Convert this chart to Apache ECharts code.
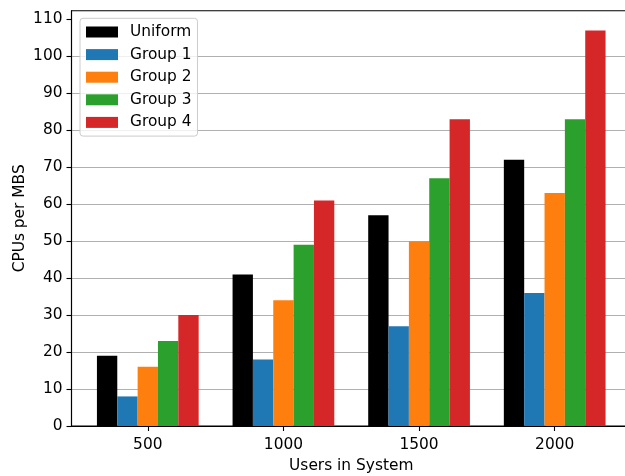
<!DOCTYPE html>
<html>
<head>
<meta charset="utf-8">
<script src="https://cdn.jsdelivr.net/npm/echarts@6/dist/echarts.min.js"></script>
<style>
  html, body { margin: 0; padding: 0; background: #fff; }
  #chart { width: 625px; height: 476px; }
</style>
</head>
<body>
<div id="chart"></div>
<script>
// Users in system (x categories)
const categories = ['500', '1000', '1500', '2000'];
// CPUs per MBS for each placement strategy
const seriesNames = ['Uniform', 'Group 1', 'Group 2', 'Group 3', 'Group 4'];
const uniform = [19, 41, 57, 72];
const group1 = [8, 18, 27, 36];
const group2 = [16, 34, 50, 63];
const group3 = [23, 49, 67, 83];
const group4 = [30, 61, 83, 107];
const yTicks = [0, 10, 20, 30, 40, 50, 60, 70, 80, 90, 100, 110];

const colors = ['#000000', '#1f77b4', '#ff7f0e', '#2ca02c', '#d62728'];
const values = [uniform, group1, group2, group3, group4];

const FONT = 'DejaVu Sans';
const FS = 15.4;
const BAR_W = 0.15;                      // bar width in category units
const nSeries = values.length;
const xPad = (nSeries * BAR_W) / 2 + 0.05 * ((categories.length - 1) + nSeries * BAR_W);
const yMax = Math.max(...values.flat()) * 1.05;

function barItem(params, api) {
  const x = api.value(0), y = api.value(1);
  const a = api.coord([x - BAR_W / 2, 0]);
  const b = api.coord([x + BAR_W / 2, y]);
  return {
    type: 'rect',
    shape: { x: a[0], y: b[1], width: b[0] - a[0], height: a[1] - b[1] },
    style: api.style()
  };
}

const series = values.map((vals, s) => ({
  name: seriesNames[s],
  type: 'custom',
  renderItem: barItem,
  itemStyle: { color: colors[s] },
  encode: { x: 0, y: 1 },
  data: vals.map((v, i) => [i + (s - (nSeries - 1) / 2) * BAR_W, v]),
  z: 2
}));

const chart = echarts.init(document.getElementById('chart'), null, { renderer: 'canvas' });
chart.setOption({
  animation: false,
  backgroundColor: '#ffffff',
  textStyle: { fontFamily: FONT, color: '#000' },
  color: colors,
  grid: {
    left: 71.5, width: 559.5, top: 10.7, bottom: 50,
    outerBoundsMode: 'none', containLabel: false,
    show: true, borderColor: '#000', borderWidth: 1.1, backgroundColor: 'transparent'
  },
  legend: {
    orient: 'vertical',
    left: 80, top: 18.3,
    padding: [5.7, 6, 5.7, 6],
    itemWidth: 32, itemHeight: 11, itemGap: 6.6,
    icon: 'rect',
    backgroundColor: 'rgba(255,255,255,0.8)',
    borderColor: '#cccccc', borderWidth: 1, borderRadius: 3,
    textStyle: { fontFamily: FONT, fontSize: FS, color: '#000', lineHeight: 16, padding: [0, 0, 0, 7] },
    data: seriesNames
  },
  xAxis: {
    type: 'value',
    min: -xPad, max: (categories.length - 1) + xPad,
    name: 'Users in System', nameLocation: 'middle', nameGap: 32.5,
    nameMoveOverlap: false,
    nameTextStyle: { fontFamily: FONT, fontSize: FS, color: '#000' },
    axisLine: { show: true, onZero: false, lineStyle: { color: '#000', width: 1.1 } },
    axisTick: { show: true, length: 5, lineStyle: { color: '#000', width: 1.1 }, customValues: categories.map((c, i) => i) },
    axisLabel: {
      fontFamily: FONT, fontSize: FS, color: '#000', margin: 11.5,
      customValues: categories.map((c, i) => i),
      formatter: v => categories[Math.round(v)]
    },
    splitLine: { show: false }
  },
  yAxis: {
    type: 'value',
    min: 0, max: yMax, interval: 10,
    name: 'CPUs per MBS', nameLocation: 'middle', nameGap: 44.5,
    nameMoveOverlap: false,
    nameTextStyle: { fontFamily: FONT, fontSize: FS, color: '#000' },
    axisLine: { show: true, onZero: false, lineStyle: { color: '#000', width: 1.1 } },
    axisTick: { show: true, length: 5, lineStyle: { color: '#000', width: 1.1 }, customValues: yTicks },
    axisLabel: {
      fontFamily: FONT, fontSize: FS, color: '#000', margin: 9,
      customValues: yTicks
    },
    splitLine: { show: true, showMaxLine: false, lineStyle: { color: '#b0b0b0', width: 1.1 } }
  },
  series: series
});
</script>
</body>
</html>
